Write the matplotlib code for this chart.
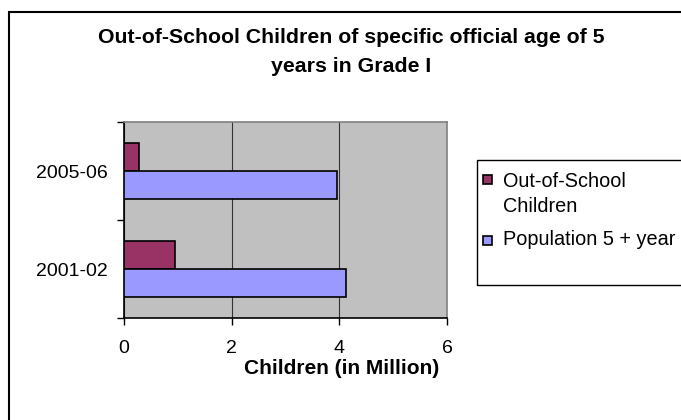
import matplotlib
matplotlib.use('Agg')
import matplotlib.pyplot as plt
import numpy as np
from matplotlib.patches import Rectangle

plt.rcParams['font.family'] = ['Liberation Sans', 'DejaVu Sans']

# Children, in million
years = ['2001-02', '2005-06']
out_of_school = [0.95, 0.28]
population_5 = [4.12, 3.95]
x_ticks = [0, 2, 4, 6]

OOS_C = '#993366'
POP_C = '#9999FF'
BG_C = '#C0C0C0'

W, H = 681, 420
fig = plt.figure(figsize=(W / 100, H / 100), dpi=100)
fig.patch.set_facecolor('white')


def px_box(x, y, w, h):
    """pixel box (top-left origin) -> figure fraction rectangle args"""
    return (x / W, 1 - (y + h) / H), w / W, h / H


# chart-area frame (runs off the right/bottom edge)
fig.patches.append(Rectangle(*px_box(9, 12, 700, 420), transform=fig.transFigure,
                             fill=False, edgecolor='black', linewidth=1.5))

ax = fig.add_axes([124 / W, 1 - 318 / H, 323 / W, 196 / H])
ax.set_facecolor(BG_C)

pos = np.arange(len(years))
h = 0.286
ax.barh(pos + h / 2, out_of_school, height=h, color=OOS_C,
        edgecolor='black', linewidth=1.2, zorder=3)
ax.barh(pos - h / 2, population_5, height=h, color=POP_C,
        edgecolor='black', linewidth=1.2, zorder=3)

ax.set_xlim(0, 6)
ax.set_ylim(-0.5, len(years) - 0.5)
ax.set_xticks(x_ticks)
ax.set_xticklabels([str(t) for t in x_ticks], fontsize=14)
ax.tick_params(axis='x', direction='out', length=5, width=1, pad=11, color='black')

# category boundaries get the tick marks, labels sit in the middle
ax.set_yticks(np.arange(-0.5, len(years), 1.0))
ax.set_yticklabels([])
ax.set_yticks(pos, minor=True)
ax.set_yticklabels(years, minor=True, fontsize=14)
ax.tick_params(axis='y', which='major', direction='out', length=5, width=1, color='black')
ax.tick_params(axis='y', which='minor', length=0, pad=12)

ax.grid(True, axis='x', color='#333333', linewidth=0.8, zorder=1)
ax.set_axisbelow(True)

for side in ('top', 'right'):
    ax.spines[side].set_color('#808080')
    ax.spines[side].set_linewidth(1.2)
for side in ('left', 'bottom'):
    ax.spines[side].set_color('black')
    ax.spines[side].set_linewidth(1.2)

# two-line title, centred on the whole chart area
title_lines = ['Out-of-School Children of specific official age of 5',
               'years in Grade I']
for line, base in zip(title_lines, (43, 72)):
    fig.text(351 / W, 1 - base / H, line, ha='center', va='baseline',
             fontsize=15.3, fontweight='bold')

fig.text(342 / W, 1 - 368 / H, 'Children (in Million)',
         ha='center', va='center', fontsize=15, fontweight='bold')

# legend box (also cut by the right edge), swatch sits on the first text line
fig.patches.append(Rectangle(*px_box(477, 160, 260, 125), transform=fig.transFigure,
                             fill=False, edgecolor='black', linewidth=1.0))
legend_items = [(OOS_C, ['Out-of-School', 'Children'], 175, [187, 212]),
                (POP_C, ['Population 5 + year'], 236, [245])]
for color, lines, sq_top, baselines in legend_items:
    fig.patches.append(Rectangle(*px_box(483, sq_top, 9, 9), transform=fig.transFigure,
                                 facecolor=color, edgecolor='black', linewidth=1.2))
    for line, base in zip(lines, baselines):
        fig.text(503 / W, 1 - base / H, line, ha='left', va='baseline',
                 fontsize=14.3)

fig.savefig('out.png', dpi=100, facecolor='white')
